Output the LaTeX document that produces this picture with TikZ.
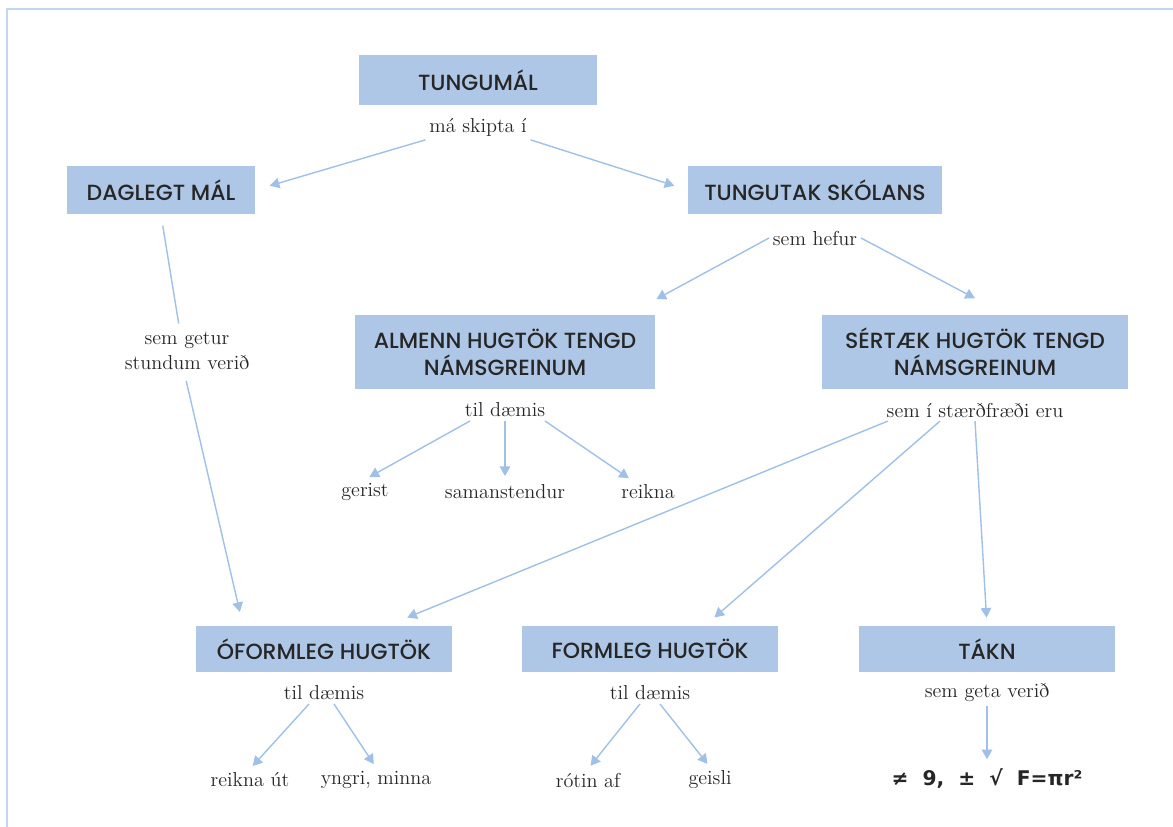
\documentclass[tikz,border=0pt]{standalone}
\usepackage{fontspec}
\newfontfamily\boxfont{Poppins Medium}
\newfontfamily\symfont{DejaVu Sans}
\usetikzlibrary{arrows.meta}
\definecolor{boxblue}{RGB}{174,199,230}
\definecolor{arrowblue}{RGB}{160,192,232}
\definecolor{frameblue}{RGB}{196,214,240}
\tikzset{
  box/.style={fill=boxblue, text=black!85, font=\boxfont\fontsize{12.5}{15.5}\selectfont, align=center, inner sep=0pt},
  lbl/.style={text=black!85, font=\fontsize{11.5}{14}\selectfont, align=center, inner sep=2pt},
  arr/.style={draw=arrowblue, line width=0.8pt, -{Triangle[length=5.5pt,width=6pt]}},
}
\begin{document}
\begin{tikzpicture}[x=0.02cm, y=-0.02cm]
    \useasboundingbox (0,0) rectangle (1173,827);
    % Rammi
    \draw[frameblue, line width=1.2pt] (7,827) -- (7,9) -- (1173,9);
    % Efst
    \node[box, minimum width=4.76cm, minimum height=1.02cm] (tung) at (478,80) {TUNGUMÁL};
    \node[lbl] (ms) at (478,127) {má skipta í};
    \node[box, minimum width=3.76cm, minimum height=0.98cm] (dag) at (161,190) {DAGLEGT MÁL};
    \node[box, minimum width=5.08cm, minimum height=0.98cm] (tun) at (815,190) {TUNGUTAK SKÓLANS};
    \node[lbl] (sh) at (815,238) {sem hefur};
    \node[lbl] (sg) at (187,351) {sem getur\\stundum verið};
    % Miðja
    \node[box, minimum width=6cm, minimum height=1.48cm] (alm) at (505,352) {ALMENN HUGTÖK TENGD\\NÁMSGREINUM};
    \node[box, minimum width=6.12cm, minimum height=1.5cm] (sert) at (975,352) {SÉRTÆK HUGTÖK TENGD\\NÁMSGREINUM};
    \node[lbl] (td1) at (505,410) {til dæmis};
    \node[lbl] (sst) at (975,410) {sem í stærðfræði eru};
    \node[lbl] (gerist) at (365,492) {gerist};
    \node[lbl] (saman) at (505,492) {samanstendur};
    \node[lbl] (reikna) at (648,492) {reikna};
    % Neðst
    \node[box, minimum width=5.12cm, minimum height=0.92cm] (ofm) at (324,649) {ÓFORMLEG HUGTÖK};
    \node[box, minimum width=5.14cm, minimum height=0.92cm] (form) at (650,649) {FORMLEG HUGTÖK};
    \node[box, minimum width=5.14cm, minimum height=0.92cm] (takn) at (987,649) {TÁKN};
    \node[lbl] (td2) at (324,693) {til dæmis};
    \node[lbl] (td3) at (650,693) {til dæmis};
    \node[lbl] (sgv) at (987,693) {sem geta verið};
    \node[lbl] (reiknaut) at (250,780) {reikna út};
    \node[lbl] (yngri) at (376,780) {yngri, minna};
    \node[lbl] (rotin) at (588,780) {rótin af};
    \node[lbl] (geisli) at (710,780) {geisli};
    \node[lbl, font=\symfont\bfseries\fontsize{11.5}{14}\selectfont] (sym) at (987,778) {≠~~9,~~±~~√~~F=πr²};
    % Örvar
    \draw[arr, shorten >=0.3cm] (ms.south west) -- (dag.east);
    \draw[arr, shorten >=0.28cm] (ms.south east) -- (tun.west);
    \draw[draw=arrowblue, line width=0.8pt, shorten <=0.22cm, shorten >=0.1cm] (dag.south) -- ([xshift=-0.15cm]sg.north);
    \draw[arr, shorten <=0.15cm, shorten >=0.28cm] ([xshift=-0.05cm]sg.south) -- ([xshift=-1.62cm]ofm.north);
    \draw[arr, shorten >=0.65cm] (sh.west) -- ([xshift=-0.55cm]alm.north east);
    \draw[arr, shorten >=0.68cm] (sh.east) -- ([xshift=0.6cm]sert.north);
    \draw[arr, shorten >=0.1cm] ([xshift=-0.7cm]td1.south) -- (gerist.north);
    \draw[arr, shorten >=0.1cm] (td1.south) -- (saman.north);
    \draw[arr, shorten >=0.1cm] ([xshift=0.8cm]td1.south) -- ([xshift=-0.3cm]reikna.north);
    \draw[arr, shorten >=0.43cm] ([xshift=0.1cm]sst.south west) -- ([xshift=-1.3cm]ofm.north east);
    \draw[arr, shorten >=0.25cm] ([xshift=-0.7cm]sst.south) -- ([xshift=1.1cm]form.north);
    \draw[arr, shorten >=0.16cm] (sst.south) -- (takn.north);
    \draw[arr, shorten >=0.08cm] ([xshift=-0.3cm]td2.south) -- (reiknaut.north);
    \draw[arr, shorten >=0.08cm] ([xshift=0.2cm]td2.south) -- (yngri.north);
    \draw[arr, shorten >=0.08cm] ([xshift=-0.2cm]td3.south) -- (rotin.north);
    \draw[arr, shorten >=0.08cm] ([xshift=0.2cm]td3.south) -- (geisli.north);
    \draw[arr, shorten >=0.1cm] (sgv.south) -- (sym.north);
\end{tikzpicture}
\end{document}
